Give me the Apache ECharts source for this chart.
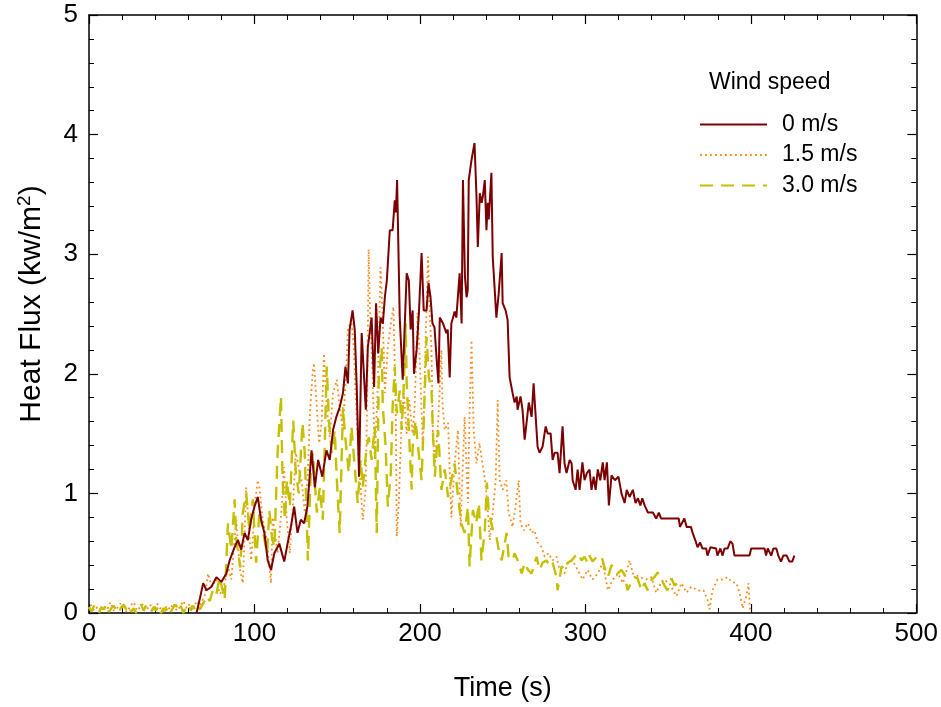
<!DOCTYPE html>
<html>
<head>
<meta charset="utf-8">
<script src="https://cdn.jsdelivr.net/npm/echarts@6/dist/echarts.min.js"></script>
<style>html,body{margin:0;padding:0;background:#fff}#c{width:941px;height:707px}</style>
</head>
<body>
<div id="c"></div>
<script>
const seriesNames = ['0 m/s', '1.5 m/s', '3.0 m/s'];
const xTicks = [0, 100, 200, 300, 400, 500];
const yTicks = [0, 1, 2, 3, 4, 5];

// [time (s), heat flux (kW/m2)]
const wind0 = [[65,0],[67,0.12],[69,0.25],[71,0.19],[74,0.22],[77,0.3],[80,0.26],[83,0.33],[85,0.44],[88,0.55],[90,0.61],[92,0.53],[94,0.67],[96,0.61],[98,0.78],[100,0.89],[102,0.97],[104,0.78],[106,0.67],[108,0.44],[110,0.36],[112,0.5],[115,0.58],[118,0.43],[120,0.58],[122,0.72],[124,0.89],[126,0.67],[128,0.78],[130,0.75],[132,0.89],[134.5,1.36],[136.5,1.05],[138.5,1.28],[141,1.14],[143.5,1.36],[145.5,1.28],[147.5,1.53],[149.5,1.64],[151.5,1.72],[153.5,1.84],[155,2.06],[156.5,1.92],[157.5,2.37],[159.3,2.53],[160.6,2.37],[161.8,1.89],[163.2,1.14],[164.8,2.34],[166,2.34],[167.3,1.7],[168.5,2.22],[170.8,2.47],[172.3,1.89],[173.5,2.59],[174.8,2.17],[176.2,2.47],[177.6,2.42],[178.8,2.64],[180,2.78],[181.8,3.2],[183.5,3.2],[184.8,3.45],[185.5,3.35],[186.2,3.62],[187.8,2.47],[189.6,1.95],[192,2.84],[193.3,2.78],[194.4,2.37],[195.6,2.53],[196.4,2.0],[198,2.2],[199.4,2.51],[201,3.01],[202.3,2.53],[204,2.53],[205.2,2.76],[206.4,2.64],[207.6,2.42],[208.8,2.39],[210,2.14],[211.2,1.92],[212,2.47],[214,2.42],[216,2.34],[216.8,2.37],[218,1.97],[219,2.42],[221,2.52],[222,2.47],[224,2.84],[225.2,2.42],[226,3.62],[227.2,2.81],[228.2,2.64],[228.9,2.7],[229.5,3.62],[231.2,3.79],[233,3.93],[234.2,3.48],[235,3.06],[236.2,3.51],[237.3,3.43],[238,3.48],[239.2,3.62],[240.2,3.2],[241,3.43],[241.6,3.29],[243.2,3.68],[244,2.98],[246.2,2.47],[247.6,2.67],[249.4,3.01],[250,2.59],[251.8,2.53],[253,2.45],[254.2,1.97],[256,1.84],[257.2,1.76],[258.5,1.81],[259,1.7],[260.8,1.81],[262,1.7],[263.3,1.45],[265.8,1.76],[267.5,1.64],[268.7,1.92],[271.1,1.39],[272.3,1.34],[274.1,1.39],[276,1.56],[277.2,1.5],[279,1.5],[280.2,1.28],[281.4,1.34],[283.2,1.34],[284.4,1.17],[286.2,1.56],[287.4,1.25],[288.6,1.17],[290.5,1.28],[291.7,1.25],[292.3,1.11],[294.1,1.03],[295.3,1.2],[296.5,1.03],[298.2,1.26],[299.5,1.11],[300.9,1.17],[302.5,1.2],[303.7,1.03],[305,1.14],[306.2,1.03],[307.5,1.2],[309,1.11],[310.5,1.26],[311.6,1.11],[313,1.26],[314.2,0.9],[315.8,1.15],[317.9,1.11],[320,1.14],[321.8,1.0],[323.7,0.92],[325,1.03],[326.7,0.97],[328.7,1.03],[330.3,0.92],[331.8,0.96],[333.2,0.9],[334.4,0.96],[335.8,0.9],[337.8,0.84],[340.8,0.84],[342.8,0.79],[344.4,0.84],[345.8,0.79],[356.4,0.79],[357.2,0.72],[359.8,0.79],[361.2,0.72],[363.8,0.72],[364.8,0.67],[366.4,0.61],[367.8,0.55],[369.3,0.59],[370.7,0.54],[373,0.54],[373.8,0.48],[375.6,0.55],[379,0.54],[379.8,0.48],[381.6,0.54],[382.9,0.48],[384.1,0.54],[386,0.54],[387.6,0.6],[388.9,0.58],[390.1,0.48],[399.2,0.48],[400.2,0.54],[408.3,0.54],[409.2,0.48],[410.2,0.54],[412.3,0.48],[413.6,0.54],[415.4,0.54],[416.6,0.48],[418.2,0.43],[419.6,0.48],[421.7,0.48],[423.3,0.43],[425,0.43],[426.3,0.48]];

const wind15 = [[0,0.03],[1,0.07],[3,0.02],[5,0.05],[7,0.01],[9,0.06],[11,0.03],[13,0.09],[15,0.02],[17,0.04],[19,0.08],[21,0.03],[23,0.01],[25,0.06],[27,0.09],[29,0.02],[31,0.05],[33,0.08],[35,0.03],[37,0.07],[39,0.02],[41,0.08],[43,0.04],[45,0.01],[47,0.06],[49,0.03],[51,0.08],[53,0.02],[55,0.05],[57,0.1],[59,0.04],[61,0.08],[63,0.03],[65,0.1],[67,0.06],[70,0.15],[72,0.33],[74,0.22],[77,0.28],[79,0.16],[81,0.19],[84,0.38],[86,0.28],[89,0.78],[91,0.38],[93,0.25],[95,1.05],[96,1.05],[98,0.44],[99,0.61],[100,0.89],[102,1.11],[103,1.05],[105,0.78],[107.5,0.61],[110,0.25],[111,0.8],[114,0.5],[116.5,0.89],[117.8,1.22],[119.5,0.78],[121.4,0.5],[123.4,0.94],[125,1.34],[126.2,1.34],[128.6,1.09],[130.4,0.84],[132.3,1.17],[133.5,1.67],[135.3,2.03],[136,2.09],[137.7,1.72],[139.1,1.42],[140.7,1.61],[142,2.17],[143.7,1.72],[145.5,1.47],[147.5,1.84],[149.8,1.95],[151.5,1.72],[153.5,1.53],[155,1.92],[156.5,2.37],[158.6,2.45],[160,2.22],[161.2,1.81],[162.6,1.39],[164.2,1.05],[165.5,0.78],[167.2,1.05],[168,1.67],[169,3.04],[169.7,2.59],[171.5,1.95],[172.7,1.28],[174.5,1.89],[176.2,2.89],[177.4,2.51],[178.8,1.84],[180.6,2.22],[182.7,2.45],[184,2.56],[185.4,1.67],[186,0.64],[187.3,0.94],[188,1.25],[189,1.61],[190.3,1.84],[192,1.5],[193.5,1.78],[195.6,1.5],[196.8,1.72],[198.6,2.51],[200,2.09],[201.8,1.36],[203.5,2.31],[204.9,2.98],[206,2.47],[207,2.22],[207.8,1.53],[209,1.25],[211,1.59],[213,2.2],[213.6,1.76],[215,1.53],[217,1.59],[219,0.8],[221,1.25],[223,1.53],[224.6,0.72],[227,1.64],[229,0.92],[230,1.67],[231.2,2.28],[232.5,1.53],[234.2,1.25],[236,1.42],[237.8,1.25],[239.6,1.09],[241,0.86],[242.2,0.61],[244,0.84],[245.8,1.11],[247,1.78],[248.2,1.11],[250,1.03],[252.2,1.11],[253.6,0.84],[256,0.72],[257.8,0.89],[259.7,1.11],[260.8,0.75],[262.7,0.69],[265.3,0.75],[267.5,0.67],[269.3,0.69],[271.1,0.59],[273.5,0.55],[275.4,0.47],[277.8,0.5],[280.2,0.44],[282.6,0.47],[284.4,0.36],[287.4,0.33],[289.3,0.42],[292.3,0.44],[295.3,0.36],[298.3,0.28],[301.3,0.36],[304.3,0.28],[307.5,0.33],[310.5,0.42],[313.6,0.19],[316.6,0.28],[319.7,0.33],[322.7,0.25],[326.7,0.44],[328.7,0.33],[332.8,0.3],[336.8,0.28],[339.9,0.3],[342.8,0.17],[346.9,0.28],[350.8,0.25],[355,0.14],[358.1,0.25],[361.1,0.17],[364.1,0.22],[367.8,0.19],[371.4,0.19],[373.8,0.11],[375,0.03],[376.8,0.19],[379.8,0.28],[382.9,0.28],[386,0.3],[388.3,0.26],[391.3,0.25],[393.2,0.17],[395,0.04],[397.3,0.14],[398.6,0.25],[399.5,0.03]];

const wind30 = [[0,0.05],[1.5,0.01],[3,0.06],[4.5,0.02],[6,0.0],[7.5,0.05],[9,0.03],[10.5,0.07],[12,0.01],[13.5,0.04],[15,0.06],[16.5,0.02],[18,0.0],[19.5,0.05],[21,0.07],[22.5,0.03],[24,0.06],[25.5,0.01],[27,0.04],[28.5,0.0],[30,0.05],[31.5,0.07],[33,0.02],[34.5,0.06],[36,0.03],[37.5,0.01],[39,0.05],[40.5,0.02],[42,0.06],[43.5,0.0],[45,0.04],[46.5,0.02],[48,0.06],[49.5,0.01],[51,0.05],[52.5,0.07],[54,0.02],[55.5,0.06],[57,0.0],[58.5,0.05],[60,0.07],[61.5,0.02],[63,0.06],[64.5,0.01],[66,0.05],[67,0.03],[69,0.08],[71,0.14],[73,0.1],[75,0.2],[77,0.16],[79,0.3],[82,0.11],[84,0.75],[86,0.53],[88,0.95],[89,0.61],[91.5,0.38],[93,0.84],[95,1.0],[97,0.69],[99,0.95],[101,0.42],[103,0.86],[105.7,0.64],[107.6,0.5],[109,0.86],[110.5,0.64],[112,0.55],[114,1.34],[116,1.81],[117,1.11],[118.4,0.78],[119.6,1.11],[121.4,0.89],[123.4,1.61],[125,1.17],[126.8,1.0],[129,1.59],[130.4,1.34],[132.3,0.44],[134,1.17],[135.3,1.34],[137.7,0.84],[139.5,1.05],[141.3,0.78],[143.7,2.06],[145,1.61],[146.7,1.34],[148.5,1.53],[149.8,1.11],[151.5,0.67],[153.5,1.72],[155,1.45],[157,1.17],[158.6,1.56],[160.6,1.22],[162.4,0.92],[164.2,1.28],[165.5,1.05],[167.8,1.39],[169.1,1.47],[170.8,1.28],[172.7,1.56],[173.9,0.67],[175.1,1.95],[176.9,2.22],[177.6,1.72],[179.3,1.39],[180.6,0.89],[182.4,1.17],[183.5,1.72],[184.8,2.06],[186,1.67],[187.8,1.86],[189,1.53],[190.3,1.92],[191.4,2.42],[192,1.92],[193.3,1.53],[195,1.03],[195.6,1.39],[197.4,1.61],[198.6,1.42],[201,1.11],[202.3,1.59],[204,2.31],[205.4,1.97],[207,1.86],[207.8,1.53],[209,1.14],[211,1.53],[213,1.03],[215,1.2],[217,0.97],[219,1.11],[221,1.25],[223,0.97],[225,0.75],[227,0.67],[229,0.89],[230,0.39],[232,0.86],[234,0.75],[235.6,0.92],[237.2,0.44],[239.2,0.69],[240.5,1.09],[241.6,0.84],[243.2,0.75],[244.6,0.67],[246.2,0.64],[247.6,0.53],[249.4,0.44],[250.6,0.53],[252.4,0.67],[253.6,0.47],[256,0.44],[257.2,0.5],[259.7,0.42],[261.5,0.33],[263.3,0.42],[265.3,0.36],[267.5,0.33],[269.3,0.42],[270.5,0.47],[272.3,0.36],[274.1,0.42],[276.5,0.44],[278.4,0.39],[280.2,0.42],[282.6,0.3],[283.2,0.19],[285.6,0.39],[287.4,0.36],[289.3,0.42],[291.7,0.44],[293.5,0.47],[295.3,0.5],[297.7,0.44],[299.5,0.47],[301.3,0.42],[302.5,0.48],[304.3,0.43],[307.5,0.48],[309.8,0.47],[311.6,0.38],[313.6,0.3],[315.8,0.4],[317.6,0.38],[319.4,0.33],[321.8,0.36],[323.7,0.32],[325.5,0.19],[327.9,0.26],[329.7,0.3],[331.5,0.29],[333.9,0.19],[335.7,0.25],[337.6,0.19],[340,0.28],[341.8,0.3],[343.6,0.34],[346,0.28],[347.8,0.23],[349.6,0.19],[352,0.29],[353.9,0.23],[355.7,0.25]];

const FONT = 'Liberation Sans, Arial, sans-serif';
const chart = echarts.init(document.getElementById('c'), null, {renderer: 'canvas'});

function xAx(pos, showLabel) {
  return {
    type: 'value', position: pos, min: xTicks[0], max: xTicks[xTicks.length - 1], interval: 100,
    axisLine: {show: true, onZero: false, lineStyle: {color: '#000', width: 1.5}},
    axisTick: {show: true, inside: true, length: 9, lineStyle: {color: '#000', width: 1.2}},
    minorTick: {show: true, splitNumber: 5, length: 5, lineStyle: {color: '#000', width: 1}},
    axisLabel: {show: showLabel, fontSize: 26, color: '#000', margin: 8, fontFamily: FONT},
    splitLine: {show: false},
    name: showLabel ? 'Time (s)' : '', nameLocation: 'middle', nameGap: 62,
    nameTextStyle: {fontSize: 27, color: '#000', fontFamily: FONT}
  };
}
function yAx(pos, showLabel) {
  return {
    type: 'value', position: pos, min: yTicks[0], max: yTicks[yTicks.length - 1], interval: 1,
    axisLine: {show: true, onZero: false, lineStyle: {color: '#000', width: 1.5}},
    axisTick: {show: true, inside: true, length: 9, lineStyle: {color: '#000', width: 1.2}},
    minorTick: {show: true, splitNumber: 5, length: 5, lineStyle: {color: '#000', width: 1}},
    axisLabel: {show: showLabel, fontSize: 26, color: '#000', margin: 11, fontFamily: FONT},
    splitLine: {show: false},
    name: showLabel ? 'Heat Flux (kw/m{sup|2})' : '', nameLocation: 'middle', nameGap: 40,
    nameTextStyle: {fontSize: 30, color: '#000', fontFamily: FONT, padding: [0, 0, 0, 20],
      rich: {sup: {fontSize: 19, color: '#000', fontFamily: FONT, padding: [0, 0, 15, 0]}}}
  };
}

chart.setOption({
  animation: false,
  textStyle: {fontFamily: FONT},
  title: {text: 'Wind speed', left: 709, top: 71, padding: 0,
    textStyle: {fontSize: 23, fontWeight: 'normal', color: '#000', fontFamily: FONT}},
  legend: {
    data: seriesNames, orient: 'vertical', left: 699, top: 113, padding: 0,
    itemWidth: 67, itemHeight: 14, itemGap: 7.5,
    itemStyle: {opacity: 0},
    textStyle: {fontSize: 23, lineHeight: 22, color: '#000', fontFamily: FONT, padding: [0, 0, 0, 10]}
  },
  grid: {left: 89, top: 15, width: 828, height: 598, containLabel: false},
  xAxis: [xAx('bottom', true), xAx('top', false)],
  yAxis: [yAx('left', true), yAx('right', false)],
  series: [
    {name: seriesNames[0], type: 'line', data: wind0, symbol: 'none', z: 5,
     lineStyle: {color: '#7d0000', width: 2, type: 'solid'}, itemStyle: {color: '#7d0000'}},
    {name: seriesNames[1], type: 'line', data: wind15, symbol: 'none', z: 3,
     lineStyle: {color: '#ff8a1c', width: 1.8, type: [1.8, 3.2]}, itemStyle: {color: '#ff8a1c'}},
    {name: seriesNames[2], type: 'line', data: wind30, symbol: 'none', z: 4,
     lineStyle: {color: '#c4c000', width: 2.4, type: [13, 8]}, itemStyle: {color: '#c4c000'}}
  ]
});
</script>
</body>
</html>
